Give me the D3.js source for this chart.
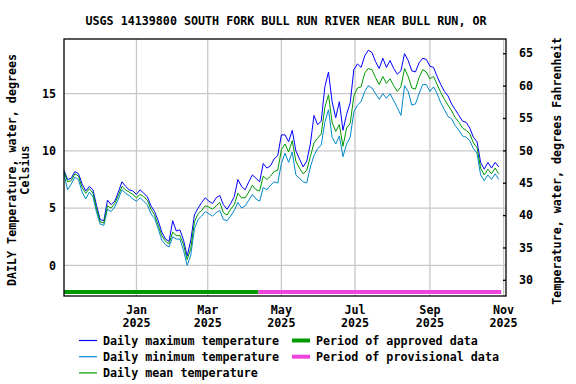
<!DOCTYPE html>
<html>
<head>
<meta charset="utf-8">
<script src="https://cdn.jsdelivr.net/npm/d3@7"></script>
<style>
  body { margin: 0; background: #fff; }
  text { font-family: "DejaVu Sans Mono", monospace; font-weight: bold; font-size: 11.7px; fill: #000; }
</style>
</head>
<body>
<div id="chart"></div>
<script>
// daily values sampled every 3 days, starting 2024-11-02
const startDate = "2024-11-02";
const stepDays = 3;

const tMax = [8.3, 7.5, 7.6, 8.2, 8.0, 7.1, 6.5, 6.9, 6.6, 5.2, 4.0, 3.9, 5.7, 5.3, 5.6, 6.4, 7.3, 6.9, 6.6, 6.5,
  6.2, 6.6, 6.3, 6.0, 5.2, 4.7, 3.9, 2.9, 2.3, 2.1, 3.9, 3.0, 3.1, 2.2, 0.8, 2.2, 4.4, 5.0, 5.5, 5.9,
  5.6, 5.4, 5.9, 6.1, 5.3, 4.9, 5.4, 6.0, 7.5, 6.9, 6.6, 7.3, 7.9, 7.6, 7.3, 8.9, 8.5, 8.7, 9.3, 9.6,
  11.4, 11.4, 10.8, 11.8, 10.0, 9.3, 8.6, 9.1, 10.6, 13.1, 12.3, 12.6, 15.6, 16.9, 14.3, 12.9, 14.3, 11.8, 13.2, 14.2,
  17.1, 17.6, 17.3, 18.3, 18.8, 18.6, 17.8, 17.2, 18.1, 17.3, 17.9, 17.2, 16.7, 17.0, 18.5, 17.9, 17.0, 16.9, 17.7, 18.1,
  18.0, 17.4, 17.3, 16.5, 15.8, 15.2, 14.8, 14.1, 13.6, 13.1, 12.6, 12.5, 12.0, 11.2, 10.8, 9.0, 8.4, 9.0, 8.5, 9.0,
  8.6];

const tMin = [8.0, 6.6, 7.1, 7.7, 7.5, 6.4, 5.8, 6.4, 6.0, 4.6, 3.6, 3.5, 4.9, 4.7, 5.1, 5.8, 6.6, 6.3, 6.1, 5.8,
  5.6, 5.9, 5.6, 5.3, 4.5, 4.1, 3.2, 2.2, 1.8, 1.6, 2.5, 2.3, 2.3, 1.3, 0.0, 0.9, 3.2, 4.0, 4.3, 4.7,
  4.5, 4.3, 4.6, 4.8, 4.0, 3.9, 4.3, 4.8, 5.5, 5.0, 5.2, 5.7, 6.2, 5.8, 5.6, 6.8, 6.6, 7.0, 7.3, 7.2,
  8.9, 9.8, 9.0, 9.9, 7.9, 7.6, 7.3, 7.2, 8.6, 9.6, 10.2, 10.5, 12.5, 13.6, 11.2, 10.6, 11.3, 9.5, 10.6, 11.2,
  13.4, 14.0, 14.3, 15.2, 15.7, 15.5, 15.0, 14.5, 15.0, 14.6, 15.0, 14.4, 13.8, 13.1, 15.7, 15.2, 14.0, 14.1, 15.0, 15.8,
  15.8, 15.2, 15.6, 15.0, 14.2, 13.6, 13.0, 12.8, 12.2, 11.8, 11.3, 11.2, 10.9, 10.2, 9.8, 7.9, 7.4, 7.9, 7.5, 8.0,
  7.5];

const tMean = [8.2, 7.3, 7.4, 8.0, 7.8, 6.8, 6.3, 6.7, 6.3, 4.9, 3.8, 3.7, 5.2, 5.0, 5.4, 6.1, 6.9, 6.6, 6.4, 6.2,
  5.9, 6.2, 6.0, 5.7, 4.9, 4.4, 3.5, 2.6, 2.1, 1.9, 2.9, 2.6, 2.6, 1.8, 0.5, 1.5, 3.8, 4.5, 4.8, 5.2,
  5.1, 4.9, 5.2, 5.5, 4.6, 4.4, 4.9, 5.3, 6.3, 5.9, 5.9, 6.4, 7.0, 6.6, 6.5, 7.8, 7.5, 7.8, 8.2, 8.3,
  10.1, 10.6, 9.9, 10.9, 9.1, 8.5, 8.0, 8.3, 9.5, 10.7, 11.1, 11.5, 13.8, 14.9, 12.5, 11.7, 12.3, 10.4, 12.0, 12.4,
  14.8, 15.5, 15.6, 16.8, 17.2, 17.1, 16.4, 15.8, 16.5, 15.9, 16.3, 15.7, 15.2, 15.6, 17.2, 16.5, 15.5, 15.4, 16.4, 17.1,
  16.9, 16.3, 16.5, 15.8, 15.1, 14.5, 14.0, 13.5, 12.9, 12.5, 12.0, 11.8, 11.5, 10.7, 10.3, 8.5, 7.9, 8.4, 8.0, 8.5,
  8.0];

const periodLabels = ["approved", "provisional"];
const periodStart = ["2024-11-02", "2025-04-12"];
const periodEnd = ["2025-04-12", "2025-10-30"];

const monthTicks = ["2025-01-01", "2025-03-01", "2025-05-01", "2025-07-01", "2025-09-01", "2025-11-01"];
const celsiusTicks = [0, 5, 10, 15];
const fahrenheitTicks = [30, 35, 40, 45, 50, 55, 60, 65];

const seriesNames = ["Daily maximum temperature", "Daily minimum temperature", "Daily mean temperature"];
const periodNames = ["Period of approved data", "Period of provisional data"];

const colMax = "#0000ff", colMin = "#0088cc", colMean = "#009900";
const colApproved = "#009900", colProvisional = "#ee44dd";

const parse = d3.timeParse("%Y-%m-%d");
const start = parse(startDate);
const dates = tMean.map((_, i) => d3.timeDay.offset(start, i * stepDays));

const W = 576, H = 384;
const pL = 64, pR = 506, pT = 39, pB = 296;

const svg = d3.select("#chart").append("svg")
  .attr("width", W)
  .attr("height", H);

const x = d3.scaleTime()
  .domain([parse("2024-11-02"), parse("2025-11-03")])
  .range([pL, pR]);

const y = d3.scaleLinear().domain([-2.68, 19.78]).range([pB, pT]);
const yF = d3.scaleLinear().domain([27.5, 67.2]).range([pB, pT]);

// grid
svg.append("g").selectAll("line")
  .data(celsiusTicks)
  .join("line")
  .attr("x1", pL).attr("x2", pR)
  .attr("y1", d => y(d)).attr("y2", d => y(d))
  .attr("stroke", "#c8c8c8").attr("stroke-width", 1.3);

svg.append("g").selectAll("line")
  .data(monthTicks)
  .join("line")
  .attr("x1", d => x(parse(d))).attr("x2", d => x(parse(d)))
  .attr("y1", pT).attr("y2", pB)
  .attr("stroke", "#c8c8c8").attr("stroke-width", 1.3);

// series
const line = vals => d3.line()
  .x((d, i) => x(dates[i]))
  .y(d => y(d))(vals);

svg.append("path").attr("d", line(tMax)).attr("fill", "none").attr("stroke", colMax).attr("stroke-width", 1);
svg.append("path").attr("d", line(tMin)).attr("fill", "none").attr("stroke", colMin).attr("stroke-width", 1);
svg.append("path").attr("d", line(tMean)).attr("fill", "none").attr("stroke", colMean).attr("stroke-width", 1);

// period bars
svg.append("g").selectAll("line")
  .data(periodLabels)
  .join("line")
  .attr("x1", (d, i) => x(parse(periodStart[i])))
  .attr("x2", (d, i) => x(parse(periodEnd[i])))
  .attr("y1", 292).attr("y2", 292)
  .attr("stroke", (d, i) => i === 0 ? colApproved : colProvisional)
  .attr("stroke-width", 4);

// frame
svg.append("rect")
  .attr("x", pL).attr("y", pT)
  .attr("width", pR - pL).attr("height", pB - pT)
  .attr("fill", "none").attr("stroke", "#000").attr("stroke-width", 1.3);

// left axis
const axL = svg.append("g")
  .attr("transform", `translate(${pL},0)`)
  .call(d3.axisLeft(y).tickValues(celsiusTicks).tickSize(0).tickPadding(8));
axL.select(".domain").remove();
axL.selectAll("text").attr("font-size", null).attr("font-family", null);

// right axis
const axR = svg.append("g")
  .attr("transform", `translate(${pR},0)`)
  .call(d3.axisRight(yF).tickValues(fahrenheitTicks).tickSize(-3).tickPadding(13));
axR.select(".domain").remove();
axR.selectAll("line").attr("stroke", "#000").attr("stroke-width", 1.3);
axR.selectAll("text").attr("font-size", null).attr("font-family", null);

// bottom labels
const xl = svg.append("g").selectAll("text")
  .data(monthTicks)
  .join("text")
  .attr("text-anchor", "middle")
  .attr("x", d => x(parse(d)));
xl.append("tspan").attr("x", d => x(parse(d))).attr("y", 314).text(d => d3.timeFormat("%b")(parse(d)));
xl.append("tspan").attr("x", d => x(parse(d))).attr("y", 327).text(d => d3.timeFormat("%Y")(parse(d)));

// title
svg.append("text")
  .attr("x", 286).attr("y", 25)
  .attr("text-anchor", "middle")
  .text("USGS 14139800 SOUTH FORK BULL RUN RIVER NEAR BULL RUN, OR");

// axis titles
const yt = svg.append("text")
  .attr("transform", "translate(16,170) rotate(-90)")
  .attr("text-anchor", "middle");
yt.append("tspan").attr("x", 0).attr("y", 0).text("DAILY Temperature, water, degrees");
yt.append("tspan").attr("x", 0).attr("y", 12.5).text("Celsius");

svg.append("text")
  .attr("transform", "translate(561,171) rotate(-90)")
  .attr("text-anchor", "middle")
  .text("Temperature, water, degrees Fahrenheit");

// legend
const lg = svg.append("g");
const seriesCols = [colMax, colMin, colMean];
seriesNames.forEach((name, i) => {
  const yy = 340.5 + i * 16.2;
  lg.append("line").attr("x1", 79).attr("x2", 97).attr("y1", yy).attr("y2", yy)
    .attr("stroke", seriesCols[i]).attr("stroke-width", 1.2);
  lg.append("text").attr("x", 103).attr("y", yy + 4).text(name);
});
const periodCols = [colApproved, colProvisional];
periodNames.forEach((name, i) => {
  const yy = 340.5 + i * 16.2;
  lg.append("line").attr("x1", 292).attr("x2", 310).attr("y1", yy).attr("y2", yy)
    .attr("stroke", periodCols[i]).attr("stroke-width", 4);
  lg.append("text").attr("x", 316).attr("y", yy + 4).text(name);
});
</script>
</body>
</html>
